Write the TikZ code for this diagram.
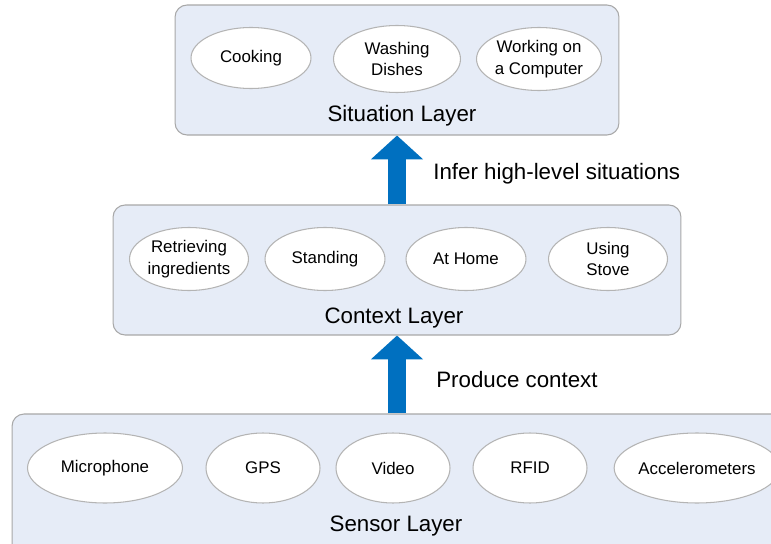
\documentclass[tikz,border=0pt]{standalone}
\usepackage{fontspec}
\setmainfont{Liberation Sans}
\usepackage{xcolor}
\usetikzlibrary{arrows.meta, positioning, shapes.geometric}

\definecolor{layerfill}{HTML}{E6ECF7}
\definecolor{layerline}{HTML}{A8A8A8}
\definecolor{itemline}{HTML}{B4B4B4}
\definecolor{flowblue}{HTML}{0070C0}

\begin{document}
\begin{tikzpicture}[
        x=0.02cm, y=-0.02cm,
        layer/.style={rectangle, draw=layerline, fill=layerfill, line width=0.6pt, rounded corners=0.24cm, minimum height=#1, inner sep=0pt},
        item/.style={ellipse, draw=itemline, fill=white, line width=0.6pt, align=center, inner sep=0pt, font=\fontsize{9.6}{12.2}\selectfont},
        layername/.style={font=\fontsize{12.7}{15}\selectfont, inner sep=0pt},
        flow/.style={-{Triangle[width=29pt, length=13.6pt]}, line width=10.2pt, flowblue},
        note/.style={font=\fontsize{12.7}{15}\selectfont, anchor=west, inner sep=0pt}
    ]
        \useasboundingbox (0,0) rectangle (771,544);
        \clip (0,0) rectangle (771,544);

        % Layer boxes
        \node[layer=2.6cm, minimum width=8.88cm] (situation) at (397,70) {};
        \node[layer=2.6cm, minimum width=11.36cm] (context) at (397,270) {};
        \node[layer=2.92cm, minimum width=15.56cm] (sensor) at (401,487) {};

        % Situation layer
        \node[item, minimum width=2.4cm, minimum height=1.22cm] (cooking) at (251,58) {Cooking};
        \node[item, minimum width=2.54cm, minimum height=1.34cm] (dishes) at (397,59) {Washing\\Dishes};
        \node[item, minimum width=2.5cm, minimum height=1.26cm] (computer) at (539,59) {Working on\\a Computer};
        \node[layername] (sitlabel) at (402,116) {Situation Layer};

        % Context layer
        \node[item, minimum width=2.38cm, minimum height=1.26cm] (retrieving) at (189,259) {Retrieving\\ingredients};
        \node[item, minimum width=2.4cm, minimum height=1.26cm] (standing) at (325,259) {Standing};
        \node[item, minimum width=2.4cm, minimum height=1.26cm] (home) at (466,259) {At Home};
        \node[item, minimum width=2.38cm, minimum height=1.26cm] (stove) at (608,259) {Using\\Stove};
        \node[layername] (ctxlabel) at (394,318) {Context Layer};

        % Sensor layer
        \node[item, minimum width=3.1cm, minimum height=1.4cm] (mic) at (105,468) {Microphone};
        \node[item, minimum width=2.28cm, minimum height=1.4cm] (gps) at (263,468) {GPS};
        \node[item, minimum width=2.28cm, minimum height=1.4cm] (video) at (393,468) {Video};
        \node[item, minimum width=2.28cm, minimum height=1.4cm] (rfid) at (530,468) {RFID};
        \node[item, minimum width=3.08cm, minimum height=1.4cm] (accel) at (697,468) {Accelerometers};
        \node[layername] (senlabel) at (396,526) {Sensor Layer};

        % Arrows between layers
        \draw[flow] (sensor.north -| 397,0) -- (context.south -| 397,0);
        \draw[flow] (context.north -| 397,0) -- (situation.south -| 397,0);

        % Labels
        \node[note] (produce) at (436,380) {Produce context};
        \node[note] (infer) at (433,174) {Infer high-level situations};
\end{tikzpicture}
\end{document}
